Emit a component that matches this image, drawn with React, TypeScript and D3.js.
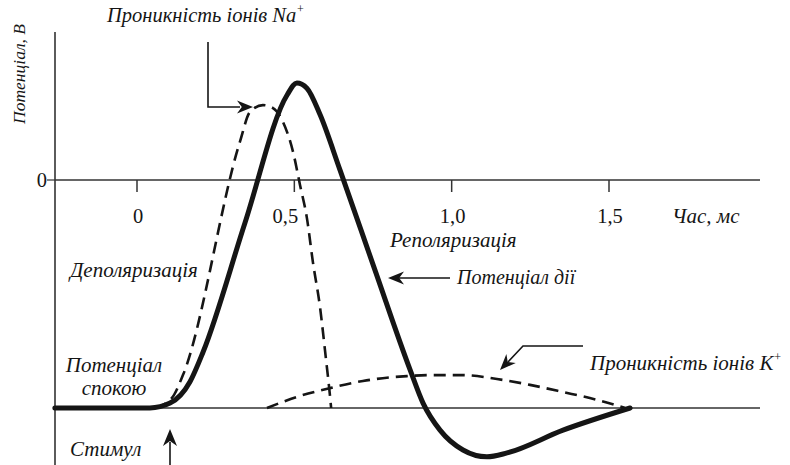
import React from "react";
import * as d3 from "d3";

// Time (ms) and potential (mV)
const apTime = [-0.261, 0.041, 0.105, 0.168, 0.21, 0.343, 0.477, 0.508, 0.54, 0.582, 0.645, 0.756, 0.868, 0.909, 0.963, 1.036, 1.112, 1.176, 1.354, 1.567];
const apValue = [-70, -70, -68.5, -62, -52.8, -13.2, 26.1, 29.8, 28.2, 20, 3.1, -27.6, -58.3, -68.5, -76.8, -82.9, -85, -83.8, -76.8, -70];

const naTime = [0.057, 0.111, 0.146, 0.327, 0.359, 0.4, 0.432, 0.464, 0.496, 0.518, 0.54, 0.559, 0.582, 0.598, 0.613, 0.617];
const naValue = [-70, -66.9, -59.9, 11.7, 20.9, 23, 22.1, 17.8, 8.6, -1.5, -11.7, -25.2, -39.3, -52.8, -66, -70];

const kTime = [0.413, 0.518, 0.613, 0.718, 0.858, 0.931, 1.036, 1.144, 1.249, 1.354, 1.462, 1.551];
const kValue = [-70, -66.3, -63.9, -61.7, -60.2, -59.9, -59.9, -61.1, -62.9, -65.1, -67.5, -70];

const xTicks = [0, 0.5, 1.0, 1.5];
const xTickLabels = ["0", "0,5", "1,0", "1,5"];
const yTicks = [0];
const yTickLabels = ["0"];
const restValue = -70;

const W = 790;
const H = 465;
const INK = "#151515";
const FONT = "'Liberation Serif', 'Times New Roman', serif";

const x = d3.scaleLinear().domain([0, 1.5]).range([137, 609]);
const y = d3.scaleLinear().domain([-70, 0]).range([408, 180]);

const line = d3
  .line<[number, number]>()
  .x((d) => x(d[0]))
  .y((d) => y(d[1]))
  .curve(d3.curveMonotoneX);

const zip = (a: number[], b: number[]) => a.map((t, i) => [t, b[i]] as [number, number]);

function arrowHead(x1: number, y1: number, x2: number, y2: number, len = 16, half = 6.5) {
  const a = Math.atan2(y2 - y1, x2 - x1);
  const bx = x2 - len * Math.cos(a);
  const by = y2 - len * Math.sin(a);
  const nx = -Math.sin(a) * half;
  const ny = Math.cos(a) * half;
  const ix = x2 - len * 0.7 * Math.cos(a);
  const iy = y2 - len * 0.7 * Math.sin(a);
  return `M${x2},${y2}L${bx + nx},${by + ny}L${ix},${iy}L${bx - nx},${by - ny}Z`;
}

export default function App() {
  const xMin = x.invert(55);
  const xMax = x.invert(760);
  const labelStyle: React.CSSProperties = { fontFamily: FONT, fontStyle: "italic", fontSize: 21, fill: INK };
  const tickStyle: React.CSSProperties = { fontFamily: FONT, fontSize: 20.5, fill: INK };
  return (
    <svg width={W} height={H} style={{ position: "absolute", left: 0, top: 0, background: "#fff" }}>
      {/* y axis */}
      <line x1={x(xMin)} x2={x(xMin)} y1={32} y2={H} stroke="#333" strokeWidth={1.6} />
      {yTicks.map((t, i) => (
        <g key={"y" + i}>
          <line x1={x(xMin) - 8} x2={x(xMin)} y1={y(t)} y2={y(t)} stroke="#333" strokeWidth={1.2} />
          <text x={x(xMin) - 8} y={y(t) + 7} textAnchor="end" style={tickStyle}>
            {yTickLabels[i]}
          </text>
        </g>
      ))}
      {/* zero line */}
      <line x1={x(xMin)} x2={x(xMax)} y1={y(0)} y2={y(0)} stroke="#333" strokeWidth={1.3} />
      {/* resting baseline */}
      <line x1={x(xMin)} x2={x(xMax)} y1={y(restValue)} y2={y(restValue)} stroke="#333" strokeWidth={1.3} />
      {xTicks.map((t, i) => (
        <g key={"x" + i}>
          <line x1={x(t)} x2={x(t)} y1={y(0)} y2={y(0) + 12} stroke="#333" strokeWidth={1.5} />
          <text x={x(t) + (t === 0.5 ? -9 : 1)} y={y(0) + 43} textAnchor="middle" style={tickStyle}>
            {xTickLabels[i]}
          </text>
        </g>
      ))}
      <text x={672} y={223} style={labelStyle}>Час, мс</text>

      {/* y axis title */}
      <text transform="translate(25,74) rotate(-90)" textAnchor="middle" style={{ ...labelStyle, fontSize: 17.5 }}>
        Потенціал, В
      </text>

      {/* curves */}
      <path d={line(zip(kTime, kValue)) || ""} fill="none" stroke={INK} strokeWidth={2.6} strokeDasharray="12 7" />
      <path d={line(zip(naTime, naValue)) || ""} fill="none" stroke={INK} strokeWidth={2.6} strokeDasharray="12 7" />
      <path d={line(zip(apTime, apValue)) || ""} fill="none" stroke={INK} strokeWidth={5} strokeLinejoin="round" strokeLinecap="round" />

      {/* Na annotation */}
      <text x={107} y={22} style={{ ...labelStyle, fontSize: 20.5 }}>
        Проникність іонів Na<tspan dy={-9} fontSize={12}>+</tspan>
      </text>
      <path d="M208,42L208,107L240,107" fill="none" stroke={INK} strokeWidth={1.6} />
      <path d={arrowHead(208, 107, 253, 107)} fill={INK} />

      {/* labels */}
      <text x={70} y={277} style={labelStyle}>Деполяризація</text>
      <text x={114} y={372} textAnchor="middle" style={labelStyle}>Потенціал</text>
      <text x={114} y={395} textAnchor="middle" style={labelStyle}>спокою</text>
      <text x={70} y={456} style={labelStyle}>Стимул</text>
      <line x1={170} x2={170} y1={465} y2={442} stroke={INK} strokeWidth={1.6} />
      <path d={arrowHead(170, 465, 170, 429, 17, 7)} fill={INK} />

      <text x={390} y={247} style={labelStyle}>Реполяризація</text>
      <text x={457} y={284} style={{ ...labelStyle, fontSize: 20 }}>Потенціал дії</text>
      <line x1={450} x2={398} y1={278} y2={278} stroke={INK} strokeWidth={1.6} />
      <path d={arrowHead(450, 278, 388, 278)} fill={INK} />

      <text x={590} y={370} style={labelStyle}>
        Проникність іонів K<tspan dy={-9} fontSize={12}>+</tspan>
      </text>
      <path d="M583,346L523,346L508,362" fill="none" stroke={INK} strokeWidth={1.6} />
      <path d={arrowHead(523, 346, 500, 370)} fill={INK} />
    </svg>
  );
}
